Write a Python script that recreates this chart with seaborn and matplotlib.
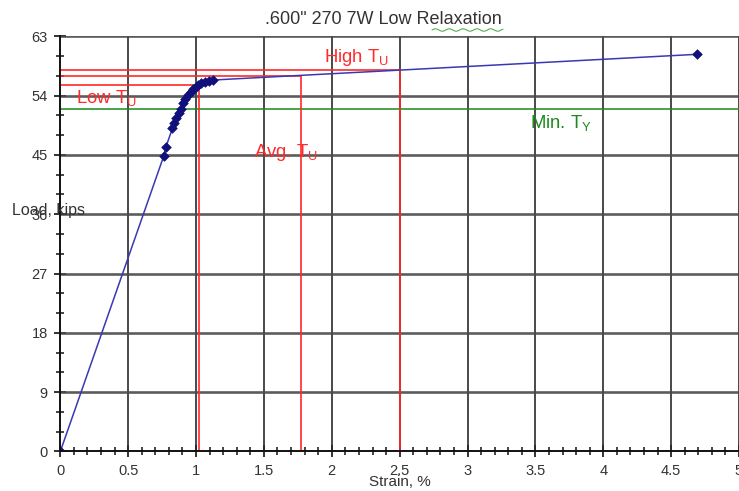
import numpy as np
import pandas as pd
import matplotlib
matplotlib.use("Agg")
import matplotlib.pyplot as plt
from matplotlib.ticker import MultipleLocator
from matplotlib.lines import Line2D
import seaborn as sns

# Load-strain test readings for the strand
strain = [0.0, 0.762, 0.777, 0.826, 0.841, 0.856, 0.875, 0.887, 0.904, 0.922,
          0.941, 0.961, 0.978, 0.998, 1.015, 1.040, 1.064, 1.096, 1.125, 4.69]
load = [0.0, 44.83, 46.15, 49.03, 49.79, 50.55, 51.40, 51.92, 52.83, 53.44,
        54.09, 54.59, 55.00, 55.35, 55.61, 55.86, 56.11, 56.26, 56.37, 60.27]

# Ultimate-strength reference points (strain %, load kips)
tu_names = ["Low", "Avg.", "High"]
tu_strain = [1.02, 1.77, 2.50]
tu_load = [55.67, 57.03, 57.84]

# Minimum yield load
min_ty = 51.9

x_ticks = [0, 0.5, 1, 1.5, 2, 2.5, 3, 3.5, 4, 4.5, 5]
x_tick_labels = ["0", "0.5", "1", "1.5", "2", "2.5", "3", "3.5", "4", "4.5", "5"]
y_ticks = [0, 9, 18, 27, 36, 45, 54, 63]

df = pd.DataFrame({"strain": strain, "load": load})

sns.set_theme(style="white")
plt.rcParams["font.family"] = ["Liberation Sans", "DejaVu Sans"]

fig = plt.figure(figsize=(7.39, 4.91), dpi=100)
ax = fig.add_axes([0.0816, 0.0805, 0.9184, 0.8455])

ax.set_xlim(0, 5)
ax.set_ylim(0, 63)

# grid
for xv in x_ticks[1:]:
    ax.axvline(xv, color="#2a2a2a", lw=1.2, zorder=1)
for yv in y_ticks[1:]:
    ax.axhline(yv, color="#4a4a4a", lw=1.9, alpha=0.9, zorder=1)

# minimum yield line
ax.axhline(min_ty, color="#1a8a1a", lw=1.1, zorder=2)

# ultimate-strength guide lines
red = "#ff2a2a"
for xs, ys in zip(tu_strain, tu_load):
    ax.plot([0, xs], [ys, ys], color=red, lw=1.2, zorder=2)
    ax.plot([xs, xs], [0, ys], color=red, lw=1.2, zorder=2)

# curve
sns.lineplot(data=df, x="strain", y="load", ax=ax, estimator=None, sort=False,
             color="#3838b4", lw=1.1, zorder=3)
sns.scatterplot(data=df, x="strain", y="load", ax=ax, marker="D", s=24,
                color="#10107a", edgecolor="#10107a", linewidth=0.5, zorder=4)

# text labels
lab_fs = 13.3
ax.text(1.946, 59.86, "High T$_\\mathregular{U}$", color=red, fontsize=lab_fs,
        va="center", ha="left")
ax.text(0.115, 53.63, "Low T$_\\mathregular{U}$", color=red, fontsize=lab_fs,
        va="center", ha="left")
ax.text(1.43, 45.4, "Avg. T$_\\mathregular{U}$", color=red, fontsize=lab_fs,
        va="center", ha="left")
ax.text(3.46, 49.85, "Min. T$_\\mathregular{Y}$", color="#1a8a1a", fontsize=lab_fs,
        va="center", ha="left")
ax.text(-0.355, 36.5, "Load, kips", color="#333333", fontsize=11.5,
        va="center", ha="left", clip_on=False, zorder=6)

# axes and ticks
ax.set_xticks(x_ticks)
ax.set_xticklabels(x_tick_labels)
ax.set_yticks(y_ticks)
ax.xaxis.set_minor_locator(MultipleLocator(0.1))
ax.yaxis.set_minor_locator(MultipleLocator(3))
ax.tick_params(axis="both", which="major", direction="inout", length=8, width=1.2,
               color="#111111", labelsize=10.5, labelcolor="#333333",
               left=True, bottom=True)
ax.tick_params(axis="both", which="minor", direction="inout", length=6, width=1.1,
               color="#111111", left=True, bottom=True)
ax.tick_params(axis="x", which="major", pad=5)
ax.tick_params(axis="y", which="major", pad=5)

for side in ["top", "right"]:
    ax.spines[side].set_visible(False)
for side in ["left", "bottom"]:
    ax.spines[side].set_color("#111111")
    ax.spines[side].set_linewidth(1.4)
    ax.spines[side].set_zorder(5)

ax.set_xlabel("Strain, %", fontsize=11, color="#333333", labelpad=-2)
ax.set_ylabel("")
fig.text(383 / 739, 1 - 20 / 491, '.600" 270 7W Low Relaxation', fontsize=13,
         color="#333333", ha="center", va="center")

# squiggle under the last title word
sx = np.linspace(432, 503, 120)
sy = 491 - 30 + 1.2 * np.sin((sx - 432) / 2.2)
fig.add_artist(Line2D(sx / 739, sy / 491, color="#3aa83a", lw=0.7))

fig.savefig("out.png", dpi=100)
